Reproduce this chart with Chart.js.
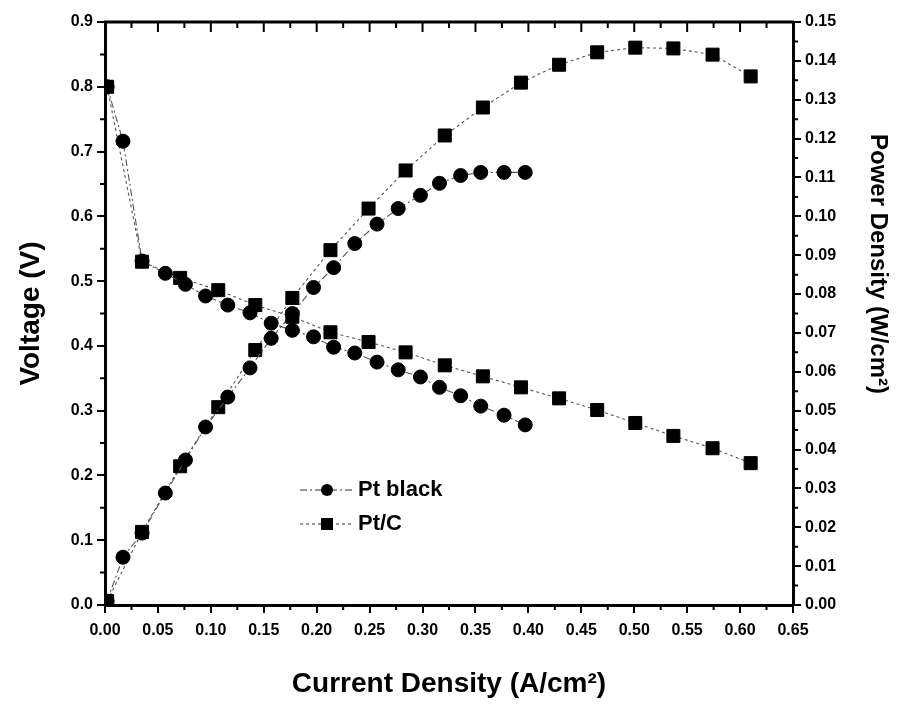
<!DOCTYPE html>
<html>
<head>
<meta charset="utf-8">
<script src="https://cdn.jsdelivr.net/npm/chart.js@4.4.1/dist/chart.umd.min.js"></script>
<style>
  body { margin: 0; background: #fff; }
</style>
</head>
<body>
<canvas id="myChart" width="906" height="705"></canvas>
<script>
// current density (A/cm2), voltage (V) and power density (W/cm2)
const ptBlackI = [0.002, 0.017, 0.035, 0.057, 0.076, 0.095, 0.116, 0.137, 0.157, 0.177, 0.197, 0.216, 0.236, 0.257, 0.277, 0.298, 0.316, 0.336, 0.355, 0.377, 0.397];
const ptBlackV = [0.80, 0.716, 0.531, 0.512, 0.495, 0.477, 0.463, 0.451, 0.435, 0.424, 0.414, 0.398, 0.389, 0.375, 0.363, 0.352, 0.336, 0.323, 0.307, 0.293, 0.278];
const ptBlackP = [0.001, 0.0123, 0.0185, 0.0288, 0.0373, 0.0458, 0.0535, 0.0610, 0.0686, 0.0750, 0.0817, 0.0868, 0.0930, 0.0980, 0.1020, 0.1054, 0.1085, 0.1105, 0.1113, 0.1113, 0.1113];

const ptcI = [0.002, 0.035, 0.071, 0.107, 0.142, 0.177, 0.213, 0.249, 0.284, 0.321, 0.357, 0.393, 0.429, 0.465, 0.501, 0.537, 0.574, 0.610];
const ptcV = [0.80, 0.530, 0.505, 0.486, 0.463, 0.445, 0.421, 0.406, 0.390, 0.370, 0.353, 0.336, 0.319, 0.301, 0.281, 0.261, 0.242, 0.219];
const ptcP = [0.001, 0.0188, 0.0357, 0.0509, 0.0656, 0.0790, 0.0913, 0.1020, 0.1118, 0.1208, 0.1280, 0.1344, 0.1390, 0.1422, 0.1434, 0.1432, 0.1416, 0.1360];

const seriesNames = ["Pt black", "Pt/C"];
const xTitle = "Current Density (A/cm\u00B2)";
const yTitle = "Voltage (V)";
const y2Title = "Power Density (W/cm\u00B2)";

const fontFam = "'Liberation Sans', Arial, sans-serif";
Chart.defaults.font.family = fontFam;
Chart.defaults.color = "#000";

const pts = (xs, ys) => xs.map((x, i) => ({ x: x, y: ys[i] }));

const blackStyle = { pointStyle: "circle", pointRadius: 7, borderDash: [7, 3, 2, 3] };
const ptcStyle = { pointStyle: "rect", pointRadius: 9.2, borderDash: [3, 3] };

function ds(label, data, axis, st) {
  return {
    label: label,
    data: data,
    yAxisID: axis,
    showLine: true,
    tension: 0,
    borderColor: "#555",
    borderWidth: 1.1,
    borderDash: st.borderDash,
    pointStyle: st.pointStyle,
    pointRadius: st.pointRadius,
    pointBackgroundColor: "#000",
    pointBorderColor: "#000",
    pointBorderWidth: 1
  };
}

// minor ticks, top frame and the in-plot legend
const frameTicks = {
  id: "frameTicks",
  afterDraw(chart) {
    const { ctx, chartArea: a, scales } = chart;
    ctx.save();
    ctx.strokeStyle = "#000";
    ctx.lineWidth = 3;
    ctx.beginPath();
    ctx.moveTo(a.left - 1, a.top);
    ctx.lineTo(a.right + 1, a.top);
    ctx.stroke();

    ctx.lineWidth = 2;
    ctx.beginPath();
    for (let i = 0; i <= 26; i++) {
      const px = scales.x.getPixelForValue(i * 0.025);
      const major = i % 2 === 0;
      ctx.moveTo(px, a.top);
      ctx.lineTo(px, a.top + (major ? 10 : 6));
      if (!major) { ctx.moveTo(px, a.bottom); ctx.lineTo(px, a.bottom + 5); }
    }
    for (let i = 1; i < 18; i += 2) {
      const py = scales.y.getPixelForValue(i * 0.05);
      ctx.moveTo(a.left, py); ctx.lineTo(a.left - 5, py);
    }
    for (let i = 1; i < 30; i += 2) {
      const py = scales.y2.getPixelForValue(i * 0.005);
      ctx.moveTo(a.right, py); ctx.lineTo(a.right + 5, py);
    }
    ctx.stroke();

    // right axis title
    ctx.fillStyle = "#000";
    ctx.font = "bold 24px " + fontFam;
    ctx.textAlign = "center";
    ctx.textBaseline = "middle";
    ctx.translate(878, 264);
    ctx.rotate(Math.PI / 2);
    ctx.fillText(y2Title, 0, 0);
    ctx.restore();

    // legend
    ctx.save();
    const items = [chart.data.datasets[0], chart.data.datasets[1]];
    const lx = 300, ly = [490, 524];
    items.forEach((d, k) => {
      const y = ly[k];
      ctx.strokeStyle = "#333";
      ctx.lineWidth = 1.2;
      ctx.setLineDash(d.borderDash);
      ctx.beginPath();
      ctx.moveTo(lx, y); ctx.lineTo(lx + 53, y);
      ctx.stroke();
      ctx.setLineDash([]);
      ctx.fillStyle = "#000";
      if (d.pointStyle === "circle") {
        ctx.beginPath(); ctx.arc(lx + 27, y, 6, 0, Math.PI * 2); ctx.fill();
      } else {
        ctx.fillRect(lx + 21, y - 6, 12, 12);
      }
      ctx.font = "bold 22px " + fontFam;
      ctx.textAlign = "left";
      ctx.textBaseline = "middle";
      ctx.fillText(seriesNames[k], lx + 58, y);
    });
    ctx.restore();
  }
};

new Chart("myChart", {
  type: "line",
  data: {
    datasets: [
      ds(seriesNames[0], pts(ptBlackI, ptBlackV), "y", blackStyle),
      ds(seriesNames[1], pts(ptcI, ptcV), "y", ptcStyle),
      ds(seriesNames[0] + " power", pts(ptBlackI, ptBlackP), "y2", blackStyle),
      ds(seriesNames[1] + " power", pts(ptcI, ptcP), "y2", ptcStyle)
    ]
  },
  options: {
    responsive: false,
    animation: false,
    layout: { padding: { top: 22, left: 0, right: 0, bottom: 0 } },
    plugins: { legend: { display: false }, tooltip: { enabled: false } },
    scales: {
      x: {
        type: "linear",
        min: 0, max: 0.65,
        afterFit: s => { s.height = 100; },
        border: { color: "#000", width: 3 },
        grid: { drawOnChartArea: false, drawTicks: true, tickLength: 8, color: "#000", lineWidth: 2 },
        ticks: {
          stepSize: 0.05, autoSkip: false, maxRotation: 0, padding: 8,
          font: { size: 16, weight: "bold" },
          callback: v => Number(v).toFixed(2)
        },
        title: { display: true, text: xTitle, font: { size: 28, weight: "bold" }, padding: { top: 10 } }
      },
      y: {
        position: "left",
        min: 0, max: 0.9,
        afterFit: s => { s.width = 105; },
        border: { color: "#000", width: 3 },
        grid: { drawOnChartArea: false, drawTicks: true, tickLength: 8, color: "#000", lineWidth: 2 },
        ticks: {
          stepSize: 0.1, padding: 4,
          font: { size: 16, weight: "bold" },
          callback: v => Number(v).toFixed(1)
        },
        title: { display: true, text: yTitle, font: { size: 28, weight: "bold" }, padding: { top: 14 } }
      },
      y2: {
        position: "right",
        min: 0, max: 0.15,
        afterFit: s => { s.width = 113; },
        border: { color: "#000", width: 3 },
        grid: { drawOnChartArea: false, drawTicks: true, tickLength: 8, color: "#000", lineWidth: 2 },
        ticks: {
          stepSize: 0.01, padding: 4,
          font: { size: 16, weight: "bold" },
          callback: v => Number(v).toFixed(2)
        }
      }
    }
  },
  plugins: [frameTicks]
});
</script>
</body>
</html>
